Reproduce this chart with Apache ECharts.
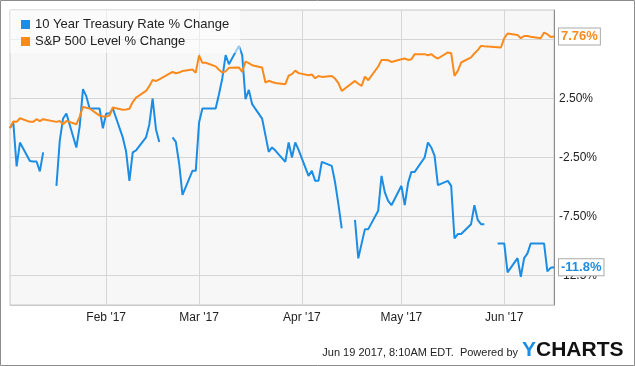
<!DOCTYPE html>
<html>
<head>
<meta charset="utf-8">
<script src="https://cdn.jsdelivr.net/npm/echarts@6/dist/echarts.min.js"></script>
<style>
  html, body { margin: 0; padding: 0; background: #fff; }
  #chart { width: 635px; height: 366px; }
</style>
</head>
<body>
<div id="chart"></div>
<script>
// trading days, holidays kept so the treasury line breaks there
const dates = [
  '2017-01-03', '2017-01-04', '2017-01-05', '2017-01-06', '2017-01-09', '2017-01-10', '2017-01-11', '2017-01-12', '2017-01-13',
  '2017-01-16', '2017-01-17', '2017-01-18', '2017-01-19', '2017-01-20', '2017-01-23', '2017-01-24', '2017-01-25', '2017-01-26',
  '2017-01-27', '2017-01-30', '2017-01-31',
  '2017-02-01', '2017-02-02', '2017-02-03', '2017-02-06', '2017-02-07', '2017-02-08', '2017-02-09', '2017-02-10', '2017-02-13',
  '2017-02-14', '2017-02-15', '2017-02-16', '2017-02-17', '2017-02-20', '2017-02-21', '2017-02-22', '2017-02-23', '2017-02-24',
  '2017-02-27', '2017-02-28',
  '2017-03-01', '2017-03-02', '2017-03-03', '2017-03-06', '2017-03-07', '2017-03-08', '2017-03-09', '2017-03-10', '2017-03-13',
  '2017-03-14', '2017-03-15', '2017-03-16', '2017-03-17', '2017-03-20', '2017-03-21', '2017-03-22', '2017-03-23', '2017-03-24',
  '2017-03-27', '2017-03-28', '2017-03-29', '2017-03-30', '2017-03-31',
  '2017-04-03', '2017-04-04', '2017-04-05', '2017-04-06', '2017-04-07', '2017-04-10', '2017-04-11', '2017-04-12', '2017-04-13',
  '2017-04-14', '2017-04-17', '2017-04-18', '2017-04-19', '2017-04-20', '2017-04-21', '2017-04-24', '2017-04-25', '2017-04-26',
  '2017-04-27', '2017-04-28',
  '2017-05-01', '2017-05-02', '2017-05-03', '2017-05-04', '2017-05-05', '2017-05-08', '2017-05-09', '2017-05-10', '2017-05-11',
  '2017-05-12', '2017-05-15', '2017-05-16', '2017-05-17', '2017-05-18', '2017-05-19', '2017-05-22', '2017-05-23', '2017-05-24',
  '2017-05-25', '2017-05-26', '2017-05-29', '2017-05-30', '2017-05-31',
  '2017-06-01', '2017-06-02', '2017-06-05', '2017-06-06', '2017-06-07', '2017-06-08', '2017-06-09', '2017-06-12', '2017-06-13',
  '2017-06-14', '2017-06-15', '2017-06-16'
]

const treasury = [
  0, 0.47, -3.26, -1.23, -2.8, -2.84, -2.84, -3.68, -2.07,
  null, -4.9, -1.09, 0.81, 1.23, -1.65, 0.12, 3.3, 2.7,
  1.65, 1.65, -0.02,
  1.23, 1.23, 1.65, -0.8, -2.0, -4.48, -2.07, -1.9, -0.8,
  0.3, 2.5, -0.1, -1.18, null, -0.8, -1.18, -3.03, -5.66,
  -3.63, -3.63,
  0.47, 1.65, 1.65, 1.65, 2.86, 4.2, 6.17, 5.4, 6.96,
  6.17, 2.44, 3.23, 2.02, 0.8, -0.6, -2.02, -1.65, -1.91,
  -2.87, -1.23, -2.5, -1.23, -1.85,
  -4.06, -3.63, -4.48, -4.48, -2.87, -3.21, -4.6, -6.45, -8.51,
  null, -7.78, -11.05, -9.8, -8.57, -8.57, -7.02, -4.06, -5.46,
  -6.17, -6.54,
  -4.9, -6.54, -4.67, -3.72, -3.72, -2.5, -1.23, -1.65, -2.36,
  -4.84, -4.48, -4.9, -9.36, -8.99, -8.99, -8.15, -6.54, -7.78,
  -8.15, -8.15, null, -9.78, -9.78,
  -9.78, -12.24, -11.03, -12.61, -11.03, -10.63, -9.78, -9.78, -9.78,
  -12.15, -11.85, -11.8
]

const sp500 = [
  0, 0.55, 0.52, 0.83, 0.52, 0.52, 0.75, 0.58, 0.75,
  null, 0.52, 0.6, 0.32, 0.6, 0.32, 0.95, 1.79, 1.72,
  1.65, 1.05, 0.97,
  0.97, 1.05, 1.74, 1.55, 1.57, 1.63, 2.2, 2.58, 3.14,
  3.55, 4.07, 3.98, 4.13, null, 4.75, 4.64, 4.7, 4.84,
  4.96, 4.69,
  6.15, 5.52, 5.53, 5.22, 4.93, 4.7, 4.8, 5.1, 5.13,
  4.76, 5.62, 5.5, 5.32, 5.13, 3.85, 4.0, 3.9, 3.82,
  3.71, 4.43, 4.57, 4.86, 4.65,
  4.47, 4.53, 4.22, 4.41, 4.33, 4.41, 4.19, 3.8, 3.14,
  null, 3.99, 3.75, 3.57, 4.36, 4.05, 5.21, 5.77, 5.77,
  5.74, 5.6,
  5.83, 5.89, 5.77, 5.83, 6.26, 6.26, 6.17, 6.26, 6.03,
  5.89, 6.4, 6.34, 4.41, 4.84, 5.55, 5.98, 6.32, 6.6,
  6.96, 6.93, null, 6.85, 6.82,
  7.61, 8.01, 7.89, 7.61, 7.8, 7.8, 7.73, 7.61, 8.09,
  7.95, 7.72, 7.76
]

const xTickDates = ['2017-02-01', '2017-03-01', '2017-04-01', '2017-05-01', '2017-06-01']
const xTickLabels = ["Feb '17", "Mar '17", "Apr '17", "May '17", "Jun '17"]
const yTickValues = [-12.5, -7.5, -2.5, 2.5, 7.5]
const yTickLabels = ['-12.5%', '-7.50%', '-2.50%', '2.50%', '7.50%']

const BLUE = '#1b8de4'
const ORANGE = '#fb8a1c'
const FONT = '"Liberation Sans", Arial, sans-serif'

// calendar x axis as plain timestamps
const toTime = (s) => {
  const [y, m, d] = s.split('-').map(Number)
  return Date.UTC(y, m - 1, d)
}
const xTickValues = xTickDates.map(toTime)

const endLabel = (color) => ({
  show: true,
  formatter: (p) => p.value[1].toPrecision(3) + '%',
  color: color,
  fontFamily: FONT,
  fontWeight: 'bold',
  fontSize: 13,
  backgroundColor: '#fff',
  borderColor: '#aaa',
  borderWidth: 1,
  padding: [2, 2, 1, 2],
  distance: 5,
})

const chart = echarts.init(document.getElementById('chart'))

const option = {
  animation: false,
  textStyle: { fontFamily: FONT },
  grid: {
    left: 10,
    right: 81,
    top: 10,
    bottom: 61,
    show: true,
    backgroundColor: '#f7f7f7',
    borderColor: '#c8c8c8',
    borderWidth: 1,
  },
  legend: {
    orient: 'vertical',
    left: 10,
    top: 10,
    icon: 'rect',
    itemWidth: 9,
    itemHeight: 9,
    itemGap: 4,
    padding: [8, 11, 5, 11],
    backgroundColor: 'rgba(255,255,255,0.55)',
    textStyle: { fontSize: 13, color: '#222', fontFamily: FONT },
    data: ['10 Year Treasury Rate % Change', 'S&P 500 Level % Change'],
  },
  xAxis: {
    type: 'value',
    min: toTime(dates[0]),
    max: toTime(dates[dates.length - 1]),
    axisLine: { show: true, onZero: false, lineStyle: { color: '#c8c8c8' } },
    axisTick: { show: false, customValues: xTickValues },
    axisLabel: {
      customValues: xTickValues,
      formatter: (v) => xTickLabels[xTickValues.indexOf(v)] || '',
      color: '#222',
      fontSize: 12,
      margin: 7,
    },
    splitLine: { show: true, lineStyle: { color: '#d6d6d6' } },
  },
  yAxis: {
    type: 'value',
    position: 'right',
    min: -15,
    max: 10,
    axisLine: { show: true, onZero: false, lineStyle: { color: '#8c8c8c' } },
    axisTick: { show: false, customValues: yTickValues },
    axisLabel: {
      customValues: yTickValues,
      formatter: (v) => yTickLabels[yTickValues.indexOf(v)] || '',
      color: '#222',
      fontSize: 12,
      margin: 5,
    },
    splitLine: { show: true, lineStyle: { color: '#d6d6d6' } },
  },
  series: [
    {
      name: '10 Year Treasury Rate % Change',
      type: 'line',
      data: dates.map((d, i) => [toTime(d), treasury[i]]),
      showSymbol: false,
      connectNulls: false,
      lineStyle: { width: 2, color: BLUE },
      itemStyle: { color: BLUE },
      endLabel: endLabel(BLUE),
    },
    {
      name: 'S&P 500 Level % Change',
      type: 'line',
      data: dates.map((d, i) => [toTime(d), sp500[i]]),
      showSymbol: false,
      connectNulls: true,
      lineStyle: { width: 2, color: ORANGE },
      itemStyle: { color: ORANGE },
      endLabel: endLabel(ORANGE),
    },
  ],
  graphic: [
    {
      type: 'rect',
      silent: true,
      shape: { x: 0.5, y: 0.5, width: 634, height: 365 },
      style: { fill: 'none', stroke: '#8c8c8c', lineWidth: 1 },
    },
    {
      type: 'text',
      x: 518,
      y: 353,
      style: {
        text: 'Jun 19 2017, 8:10AM EDT.  Powered by',
        align: 'right',
        verticalAlign: 'middle',
        font: '11px "Liberation Sans", Arial, sans-serif',
        fill: '#222',
      },
    },
    {
      type: 'text',
      x: 522,
      y: 350,
      style: {
        text: '{y|Y}{c|CHARTS}',
        verticalAlign: 'middle',
        rich: {
          y: { font: 'bold 21px "Liberation Sans", Arial, sans-serif', fill: BLUE },
          c: { font: 'bold 21px "Liberation Sans", Arial, sans-serif', fill: '#111' },
        },
      },
    },
  ],
}

chart.setOption(option)
</script>
</body>
</html>
